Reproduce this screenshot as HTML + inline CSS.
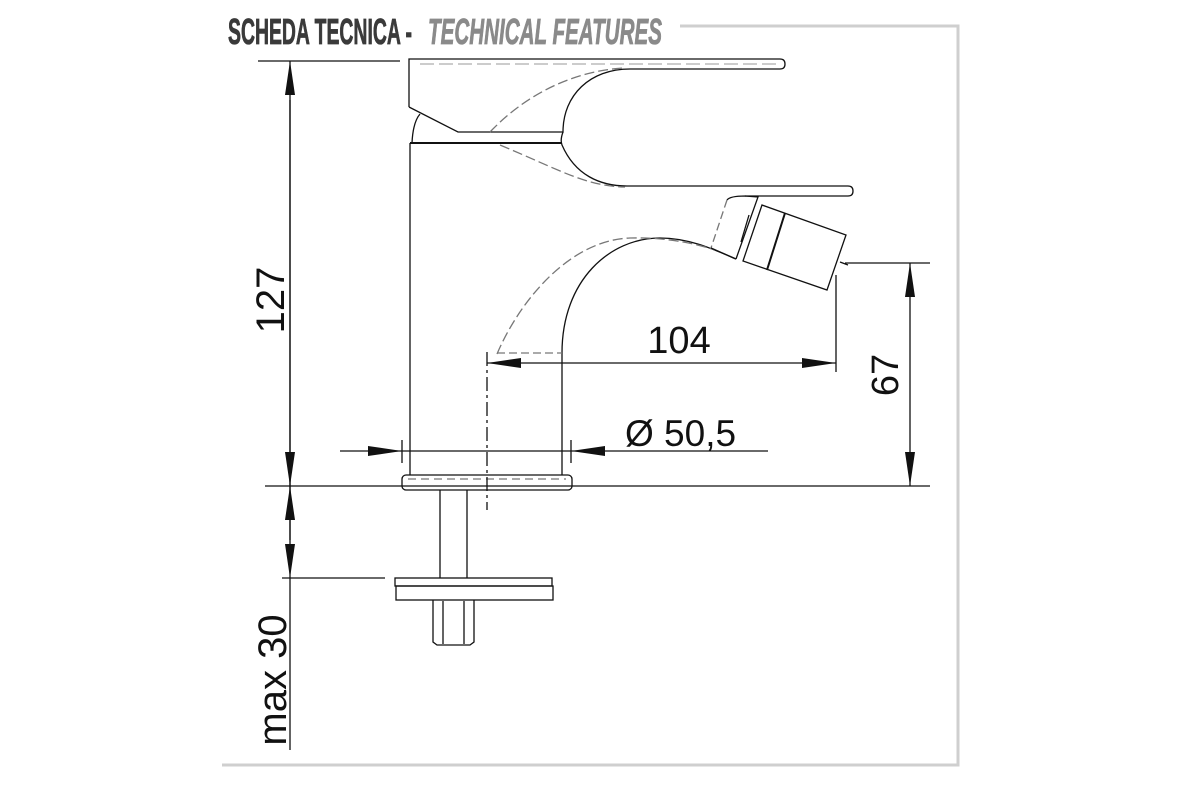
<!DOCTYPE html>
<html><head><meta charset="utf-8"><style>
html,body{margin:0;padding:0;background:#fff;width:1200px;height:800px;overflow:hidden}
</style></head><body>
<svg width="1200" height="800" viewBox="0 0 1200 800" xmlns="http://www.w3.org/2000/svg">
<defs>
<marker id="a" viewBox="0 0 34 10" refX="34" refY="5" markerWidth="34" markerHeight="10" markerUnits="userSpaceOnUse" orient="auto-start-reverse"><path d="M0,0 L34,5 L0,10 Z" fill="#111"/></marker>
</defs>
<!-- frame -->
<polyline points="680,26 958,26 958,765 222,765" fill="none" stroke="#cfcfcf" stroke-width="3"/>
<!-- title -->
<text x="228" y="44" font-family="Liberation Sans Narrow, Liberation Sans, sans-serif" font-weight="bold" font-size="36" fill="#3a3a3a" stroke="#3a3a3a" stroke-width="0.8" textLength="184" lengthAdjust="spacingAndGlyphs">SCHEDA TECNICA -</text>
<text x="428" y="44" font-family="Liberation Sans Narrow, Liberation Sans, sans-serif" font-weight="bold" font-style="italic" font-size="36" fill="#8a8a8a" stroke="#8a8a8a" stroke-width="0.8" textLength="234" lengthAdjust="spacingAndGlyphs">TECHNICAL FEATURES</text>

<g fill="none" stroke="#111" stroke-width="1.3">
<!-- left dimension -->
<line x1="258" y1="61" x2="400" y2="61"/>
<line x1="265" y1="486" x2="930" y2="486"/>
<line x1="282" y1="578" x2="385" y2="578"/>
<line x1="290" y1="486" x2="290" y2="61" marker-end="url(#a)"/>
<line x1="290" y1="100" x2="290" y2="486" marker-end="url(#a)"/>
<line x1="290" y1="540" x2="290" y2="486" marker-end="url(#a)"/>
<line x1="290" y1="486" x2="290" y2="578" marker-end="url(#a)"/>
<line x1="290" y1="578" x2="290" y2="750"/>

<!-- top handle -->
<path d="M409,107 L409,59 L780,59 Q785,59 785,64 Q785,69 780,69 L630,69"/>
<path d="M409,107 L458,132 L563,132 C563,95 590,69 630,69"/>
<path d="M490,132 C530,90 580,70 625,68" stroke="#777" stroke-dasharray="10,4"/>
<path d="M412,143 Q413,122 420,114"/>
<line x1="410" y1="143" x2="562" y2="143" stroke-width="2"/>
<path d="M563,132 Q560,140 562,145 C575,175 600,186 627,186 L848,186 Q853,186 853,191 Q853,196 848,196 L745,196"/>
<path d="M500,145 C560,170 585,186 625,187" stroke="#777" stroke-dasharray="10,4"/>
<line x1="420" y1="64" x2="780" y2="64" stroke="#999" stroke-dasharray="14,5" stroke-width="1"/>

<!-- body -->
<line x1="410" y1="143" x2="410" y2="475"/>
<!-- spout -->
<path d="M562,475 L562,353 C562,280 610,238 660,238 C690,238 715,250 736,259"/>
<path d="M497,354 C520,300 570,240 630,238 C670,237 700,245 715,250" stroke="#777" stroke-dasharray="10,4"/>
<line x1="497" y1="353" x2="562" y2="353" stroke="#777" stroke-dasharray="8,4"/>
<!-- lever -->
<path d="M736,259 L758,197 L745,196 Q730,196 727,200"/>
<line x1="727" y1="200" x2="711" y2="248" stroke="#777" stroke-dasharray="8,4"/>
<line x1="711" y1="248" x2="736" y2="259"/>
<line x1="749" y1="215" x2="741" y2="242"/>
<!-- aerator -->
<polygon points="762,205 846,235 827,290 743,261"/>
<line x1="785" y1="213" x2="767" y2="270" stroke-width="2"/>
<line x1="840" y1="262" x2="848" y2="265"/>

<!-- base plate -->
<rect x="402" y="475" width="170" height="15" rx="4"/>
<line x1="408" y1="479" x2="566" y2="479" stroke="#777" stroke-dasharray="8,5"/>
<line x1="440" y1="490" x2="440" y2="578"/>
<line x1="467" y1="490" x2="467" y2="578"/>
<rect x="395" y="578" width="157" height="8"/>
<rect x="396" y="586" width="157" height="14"/>
<path d="M433,600 L433,642 L437,645 L470,645 L474,642 L474,600"/>
<line x1="443" y1="601" x2="443" y2="644"/>
<line x1="464" y1="601" x2="464" y2="644"/>

<!-- center line -->
<line x1="487" y1="352" x2="487" y2="510" stroke-dasharray="14,4,3,4"/>

<!-- 104 -->
<line x1="836" y1="275" x2="836" y2="372"/>
<line x1="660" y1="363" x2="487" y2="363" marker-end="url(#a)"/>
<line x1="660" y1="363" x2="836" y2="363" marker-end="url(#a)"/>

<!-- 67 -->
<line x1="845" y1="263" x2="930" y2="263"/>
<line x1="910" y1="370" x2="910" y2="263" marker-end="url(#a)"/>
<line x1="910" y1="370" x2="910" y2="486" marker-end="url(#a)"/>

<!-- Ø 50,5 -->
<line x1="402" y1="440" x2="402" y2="463"/>
<line x1="571" y1="440" x2="571" y2="463"/>
<line x1="340" y1="451" x2="402" y2="451" marker-end="url(#a)"/>
<line x1="768" y1="451" x2="571" y2="451" marker-end="url(#a)"/>
<line x1="402" y1="451" x2="571" y2="451"/>
</g>

<g font-family="Liberation Sans, sans-serif" fill="#111">
<text x="679" y="353" font-size="38" text-anchor="middle">104</text>
<text x="625" y="446" font-size="37">Ø 50,5</text>
<text transform="translate(898,375) rotate(-90)" font-size="38" text-anchor="middle">67</text>
<text transform="translate(284,300) rotate(-90)" font-size="40" text-anchor="middle">127</text>
<text transform="translate(286,680) rotate(-90)" font-size="40" text-anchor="middle">max 30</text>
</g>
</svg>
</body></html>
